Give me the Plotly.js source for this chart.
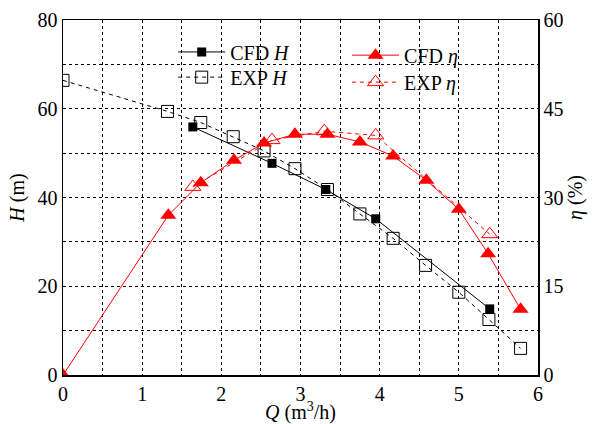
<!DOCTYPE html>
<html><head><meta charset="utf-8">
<script src="https://cdn.plot.ly/plotly-3.0.1.min.js"></script>
<style>body{margin:0;background:#fff}#c{width:594px;height:424px}</style>
</head><body><div id="c"></div>
<script>
var cfdHQ = [1.64, 2.64, 3.32, 3.95, 5.39];
var cfdH  = [55.9, 47.7, 41.8, 35.2, 14.9];
var expHQ = [0, 1.32, 1.74, 2.15, 2.54, 2.93, 3.34, 3.75, 4.17, 4.58, 5.0, 5.38, 5.78];
var expH  = [66.4, 59.4, 56.9, 53.7, 50.5, 46.5, 41.8, 36.3, 30.8, 24.7, 18.65, 12.5, 6.0];
var cfdEQ = [0, 1.33, 1.74, 2.16, 2.54, 2.93, 3.34, 3.75, 4.17, 4.59, 5.0, 5.37, 5.78];
var cfdE  = [0, 27.0, 32.5, 36.3, 39.2, 40.7, 40.7, 39.4, 37.0, 32.9, 28.0, 20.5, 11.1];
var expEQ = [1.64, 2.64, 3.30, 3.95, 5.39];
var expE  = [31.8, 39.7, 41.2, 40.5, 23.8];

var F = '"Liberation Serif"';
var RED = '#ff0000';
var traces = [
  {x: cfdHQ, y: cfdH, name: 'CFD <i>H</i>', mode: 'lines+markers', legend: 'legend',
   line: {color: '#000', width: 1}, marker: {symbol: 'square', size: 9, color: '#000'}},
  {x: expHQ, y: expH, name: 'EXP <i>H</i>', mode: 'lines+markers', legend: 'legend2',
   line: {color: '#000', width: 1, dash: '4px,4px'}, marker: {symbol: 'square-open', size: 12, color: '#000', line: {width: 1}}},
  {x: cfdEQ, y: cfdE, name: 'CFD <i>η</i>', mode: 'lines+markers', yaxis: 'y2', legend: 'legend3',
   line: {color: RED, width: 1}, marker: {symbol: 'triangle-up', size: 14, color: RED}},
  {x: expEQ, y: expE, name: 'EXP <i>η</i>', mode: 'lines+markers', yaxis: 'y2', legend: 'legend4',
   line: {color: RED, width: 1, dash: '4px,4px'}, marker: {symbol: 'triangle-up-open', size: 14, color: RED, line: {width: 1}}}
];
function leg(x, y) {
  return {x: x, y: y, xanchor: 'left', yanchor: 'middle', bgcolor: 'rgba(0,0,0,0)',
    font: {family: F, size: 20}, itemwidth: 47};
}
var layout = {
  width: 594, height: 424,
  margin: {l: 63, r: 56, t: 20, b: 49},
  paper_bgcolor: '#fff', plot_bgcolor: '#fff',
  font: {family: F, size: 20, color: '#000'},
  showlegend: true,
  xaxis: {range: [0, 6], dtick: 1, tick0: 0, showline: true, linecolor: '#000', linewidth: 1.5, mirror: true,
    ticks: '', zeroline: false, tickfont: {family: F, size: 20},
    showgrid: true, gridcolor: '#000', griddash: 'dot', gridwidth: 1,
    minor: {dtick: 0.5, showgrid: true, gridcolor: '#000', griddash: 'dot', gridwidth: 1},
    title: {text: '<i>Q</i> (m<sup>3</sup>/h)', font: {family: F, size: 20}, standoff: 0}},
  yaxis: {range: [0, 80], dtick: 20, tick0: 0, showline: true, linecolor: '#000', linewidth: 1.5,
    ticks: '', zeroline: false, tickfont: {family: F, size: 20},
    showgrid: true, gridcolor: '#000', griddash: 'dot', gridwidth: 1,
    minor: {dtick: 10, showgrid: true, gridcolor: '#000', griddash: 'dot', gridwidth: 1},
    title: {text: '<i>H</i> (m)', font: {family: F, size: 20}, standoff: 7}},
  yaxis2: {range: [0, 60], dtick: 15, tick0: 0, overlaying: 'y', side: 'right', showgrid: false, zeroline: false,
    showline: true, linecolor: '#000', linewidth: 1.5, ticks: '', tickfont: {family: F, size: 20},
    title: {text: '<i>η</i> (%)', font: {family: F, size: 20}, standoff: 2}},
  legend: leg(0.232, 0.910),
  legend2: leg(0.232, 0.839),
  legend3: leg(0.598, 0.901),
  legend4: leg(0.598, 0.825)
};
Plotly.newPlot('c', traces, layout, {displayModeBar: false, staticPlot: true});
</script></body></html>
